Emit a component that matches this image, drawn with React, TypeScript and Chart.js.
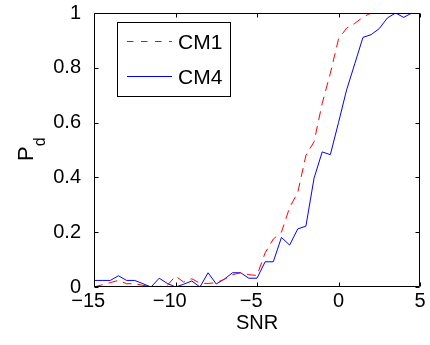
import React, { useEffect, useRef } from 'react';
import { Chart, registerables } from 'chart.js';

Chart.register(...registerables);

const snr = [
  -15, -14.5, -14, -13.5, -13, -12.5, -12, -11.5, -11, -10.5,
  -10, -9.5, -9, -8.5, -8, -7.5, -7, -6.5, -6, -5.5,
  -5, -4.5, -4, -3.5, -3, -2.5, -2, -1.5, -1, -0.5,
  0, 0.5, 1, 1.5, 2, 2.5, 3, 3.5, 4, 4.5, 5,
];

const cm1 = [
  0, 0.008, 0.016, 0.024, 0.012, 0.012, 0.006, 0.002, 0.002, 0.006,
  0.04, 0.018, 0.03, 0.014, 0.013, 0.016, 0.028, 0.045, 0.052, 0.045,
  0.042, 0.125, 0.175, 0.2, 0.29, 0.345, 0.48, 0.53, 0.67, 0.78,
  0.905, 0.945, 0.962, 0.985, 1, 1, 1, 1, 1, 1, 1,
];

const cm4 = [
  0.024, 0.024, 0.024, 0.041, 0.024, 0.024, 0.012, 0, 0.032, 0.013,
  0, 0.01, 0.022, 0, 0.052, 0.011, 0.029, 0.052, 0.052, 0.032,
  0.032, 0.092, 0.092, 0.181, 0.153, 0.212, 0.222, 0.397, 0.493, 0.483,
  0.6, 0.72, 0.815, 0.911, 0.921, 0.943, 0.982, 1, 0.984, 1, 1,
];

const seriesLabels = ['CM1', 'CM4'];
const xTicks = [-15, -10, -5, 0, 5];
const yTicks = [0, 0.2, 0.4, 0.6, 0.8, 1];
const xTitle = 'SNR';
const yTitleMain = 'P';
const yTitleSub = 'd';

const FONT = '"Liberation Sans", Arial, Helvetica, sans-serif';
const LEGEND_DASH = [6.5, 7.5];

const fmt = (v: number) => {
  const s = String(Math.round(v * 1000) / 1000);
  return s.replace('-', '\u2212');
};

const framePlugin = {
  id: 'frame',
  afterDatasetsDraw(chart: any) {
    const { ctx, chartArea: a, scales } = chart;
    ctx.save();
    const L = Math.round(a.left) + 0.5;
    const R = Math.round(a.right) - 0.5;
    const T = Math.round(a.top) + 0.5;
    const B = Math.round(a.bottom) - 0.5;
    ctx.strokeStyle = '#000';
    ctx.lineWidth = 1;
    ctx.beginPath();
    ctx.rect(L, T, R - L, B - T);
    const tl = 4;
    xTicks.forEach((v) => {
      const px = Math.round(scales.x.getPixelForValue(v)) + 0.5;
      ctx.moveTo(px, B);
      ctx.lineTo(px, B - tl);
      ctx.moveTo(px, T);
      ctx.lineTo(px, T + tl);
    });
    yTicks.forEach((v) => {
      const py = Math.round(scales.y.getPixelForValue(v)) + 0.5;
      ctx.moveTo(L, py);
      ctx.lineTo(L + tl, py);
      ctx.moveTo(R, py);
      ctx.lineTo(R - tl, py);
    });
    ctx.stroke();

    // x tick labels: digits centred on the tick, minus sign hanging left
    ctx.fillStyle = '#000';
    ctx.font = `20px ${FONT}`;
    ctx.textAlign = 'right';
    ctx.textBaseline = 'middle';
    xTicks.forEach((v) => {
      const px = scales.x.getPixelForValue(v);
      const digits = fmt(Math.abs(v));
      const dw = ctx.measureText(digits).width;
      ctx.fillText(fmt(v), px + dw / 2, a.bottom + 14);
    });

    // legend
    const lx0 = 117.5, ly0 = 22.5, lw = 113, lh = 74;
    ctx.fillStyle = '#fff';
    ctx.fillRect(lx0, ly0, lw, lh);
    ctx.strokeStyle = '#000';
    ctx.strokeRect(lx0, ly0, lw, lh);
    const rows = [41.5, 76.5];
    chart.data.datasets.forEach((ds: any, i: number) => {
      ctx.beginPath();
      ctx.strokeStyle = ds.borderColor;
      ctx.lineWidth = 1;
      ctx.setLineDash(ds.borderDash ? LEGEND_DASH : []);
      ctx.moveTo(127, rows[i]);
      ctx.lineTo(172, rows[i]);
      ctx.stroke();
      ctx.setLineDash([]);
      ctx.fillStyle = '#000';
      ctx.font = `21px ${FONT}`;
      ctx.textAlign = 'left';
      ctx.textBaseline = 'middle';
      ctx.fillText(ds.label, 178, rows[i] + 2);
    });

    // y title with subscript
    ctx.translate(33, 161);
    ctx.rotate(-Math.PI / 2);
    ctx.fillStyle = '#000';
    ctx.textAlign = 'left';
    ctx.textBaseline = 'alphabetic';
    ctx.font = `22px ${FONT}`;
    ctx.fillText(yTitleMain, 0, 0);
    const w = ctx.measureText(yTitleMain).width;
    ctx.font = `16px ${FONT}`;
    ctx.fillText(yTitleSub, w, 12);
    ctx.restore();
  },
};

export default function App() {
  const ref = useRef<HTMLCanvasElement | null>(null);
  useEffect(() => {
    document.body.style.margin = '0';
    const canvas = ref.current;
    if (!canvas) return;
    const chart = new Chart(canvas, {
      type: 'line',
      data: {
        datasets: [
          {
            label: seriesLabels[0],
            data: snr.map((x, i) => ({ x, y: cm1[i] })),
            borderColor: '#ff0000',
            borderWidth: 1,
            borderDash: [9, 6],
            pointRadius: 0,
            fill: false,
            tension: 0,
          },
          {
            label: seriesLabels[1],
            data: snr.map((x, i) => ({ x, y: cm4[i] })),
            borderColor: '#0000ff',
            borderWidth: 1,
            pointRadius: 0,
            fill: false,
            tension: 0,
          },
        ],
      },
      options: {
        animation: false,
        responsive: false,
        devicePixelRatio: 1,
        layout: { padding: { left: 0, right: 10, top: 13, bottom: 0 } },
        plugins: {
          legend: { display: false },
          tooltip: { enabled: false },
        },
        scales: {
          x: {
            type: 'linear',
            min: -15,
            max: 5,
            grid: { display: false, drawTicks: false },
            border: { display: false },
            afterBuildTicks: (s: any) => {
              s.ticks = xTicks.map((v) => ({ value: v }));
            },
            afterFit: (s: any) => {
              s.height = 58;
              s.paddingLeft = 0;
              s.paddingRight = 0;
              s.paddingTop = 0;
              s.paddingBottom = 0;
            },
            ticks: { display: false },
            title: {
              display: true,
              text: xTitle,
              color: '#000',
              font: { family: FONT, size: 20 },
              padding: { top: 0, bottom: 10 },
            },
          },
          y: {
            type: 'linear',
            min: 0,
            max: 1,
            grid: { display: false, drawTicks: false },
            border: { display: false },
            afterBuildTicks: (s: any) => {
              s.ticks = yTicks.map((v) => ({ value: v }));
            },
            afterFit: (s: any) => {
              s.width = 94;
              s.paddingLeft = 0;
              s.paddingRight = 0;
              s.paddingTop = 0;
              s.paddingBottom = 0;
            },
            ticks: {
              color: '#000',
              padding: 13,
              autoSkip: false,
              font: { family: FONT, size: 20 },
              callback: (v: any) => fmt(Number(v)),
            },
          },
        },
      },
      plugins: [framePlugin],
    } as any);
    return () => chart.destroy();
  }, []);
  return (
    <div style={{ width: 430, height: 345, position: 'relative', background: '#fff' }}>
      <canvas ref={ref} width={430} height={345} />
    </div>
  );
}
